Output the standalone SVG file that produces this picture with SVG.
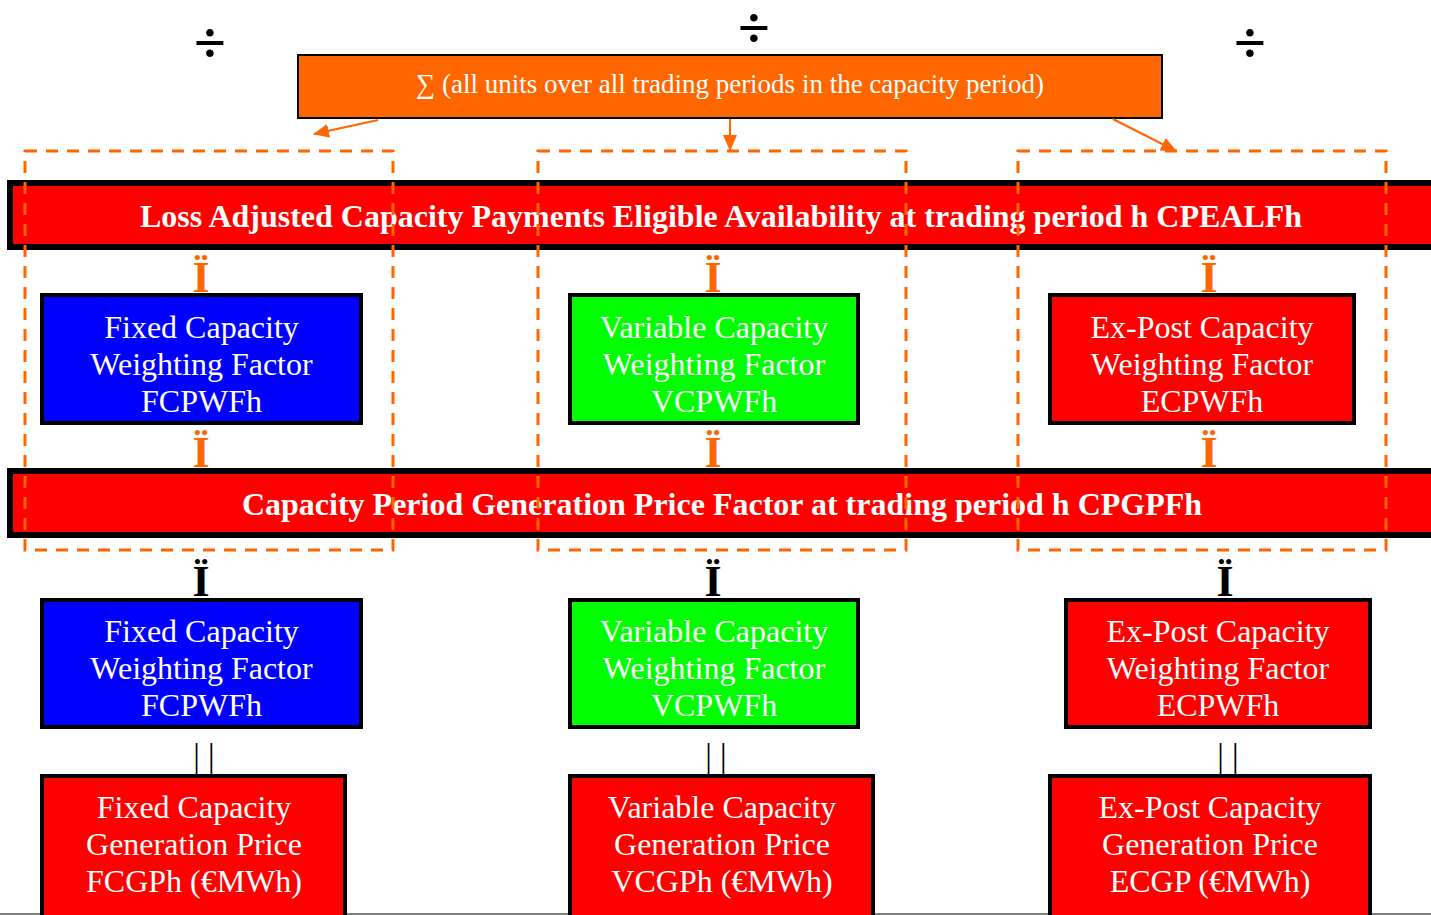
<svg xmlns="http://www.w3.org/2000/svg" width="1431" height="915" viewBox="0 0 1431 915">
<style>
.t{font-family:"Liberation Serif","Times New Roman",serif;fill:#fff;text-anchor:middle}
.n{font-size:32px}
.b{font-size:32px;font-weight:bold}
.sym{font-family:"Liberation Serif","DejaVu Serif",serif;text-anchor:middle;font-weight:bold}
.div{font-size:58px;fill:#000}
.io{font-size:44px;fill:#FF6600}
.ik{font-size:44px;fill:#000}
.bar{font-family:"Liberation Serif",serif;font-size:33px;fill:#000;text-anchor:middle}
.dash{fill:none;stroke:#FF6600;stroke-width:3;stroke-dasharray:12 9}
.box{stroke:#000;stroke-width:4}
.band{fill:#FF0000;stroke:#000;stroke-width:6}
.arr{stroke:#FF6600;stroke-width:2;fill:none;marker-end:url(#ah)}
</style>
<defs>
<marker id="ah" markerUnits="userSpaceOnUse" markerWidth="16" markerHeight="14" refX="15" refY="7" orient="auto">
<path d="M0,0 L16,7 L0,14 Z" fill="#FF6600"/>
</marker>
</defs>
<rect width="1431" height="915" fill="#fff"/>
<line x1="0" y1="914" x2="1431" y2="914" stroke="#000" stroke-width="1"/>

<g id="divisions">
<text class="sym div" x="210" y="62">÷</text>
<text class="sym div" x="754" y="47" font-size="52">÷</text>
<text class="sym div" x="1250" y="62">÷</text>
</g>

<g id="sum">
<rect x="298" y="55" width="864" height="63" fill="#FF6600" stroke="#000" stroke-width="2"/>
<text class="t" x="730" y="93" font-size="27">∑ (all units over all trading periods in the capacity period)</text>
</g>

<g id="band-cpealf">
<rect class="band" x="10" y="183" width="1430" height="64"/>
<text class="t b" x="721" y="227">Loss Adjusted Capacity Payments Eligible Availability at trading period h CPEALFh</text>
</g>

<g id="band-cpgpf">
<rect class="band" x="10" y="471" width="1430" height="64"/>
<text class="t b" x="722" y="515">Capacity Period Generation Price Factor at trading period h CPGPFh</text>
</g>

<g id="fcpwf-1">
<rect class="box" x="42" y="295" width="319" height="128" fill="#0000FF"/>
<text class="t n" x="201.5" y="338">Fixed Capacity</text>
<text class="t n" x="201.5" y="375">Weighting Factor</text>
<text class="t n" x="201.5" y="412">FCPWFh</text>
</g>
<g id="vcpwf-1">
<rect class="box" x="570" y="295" width="288" height="128" fill="#00FF00"/>
<text class="t n" x="714" y="338">Variable Capacity</text>
<text class="t n" x="714" y="375">Weighting Factor</text>
<text class="t n" x="714" y="412">VCPWFh</text>
</g>
<g id="ecpwf-1">
<rect class="box" x="1050" y="295" width="304" height="128" fill="#FF0000"/>
<text class="t n" x="1202" y="338">Ex-Post Capacity</text>
<text class="t n" x="1202" y="375">Weighting Factor</text>
<text class="t n" x="1202" y="412">ECPWFh</text>
</g>

<g id="fcpwf-2">
<rect class="box" x="42" y="600" width="319" height="127" fill="#0000FF"/>
<text class="t n" x="201.5" y="642">Fixed Capacity</text>
<text class="t n" x="201.5" y="679">Weighting Factor</text>
<text class="t n" x="201.5" y="716">FCPWFh</text>
</g>
<g id="vcpwf-2">
<rect class="box" x="570" y="600" width="288" height="127" fill="#00FF00"/>
<text class="t n" x="714" y="642">Variable Capacity</text>
<text class="t n" x="714" y="679">Weighting Factor</text>
<text class="t n" x="714" y="716">VCPWFh</text>
</g>
<g id="ecpwf-2">
<rect class="box" x="1066" y="600" width="304" height="127" fill="#FF0000"/>
<text class="t n" x="1218" y="642">Ex-Post Capacity</text>
<text class="t n" x="1218" y="679">Weighting Factor</text>
<text class="t n" x="1218" y="716">ECPWFh</text>
</g>

<g id="fcgp">
<rect class="box" x="42" y="776" width="303" height="150" fill="#FF0000"/>
<text class="t n" x="194" y="818">Fixed Capacity</text>
<text class="t n" x="194" y="855">Generation Price</text>
<text class="t n" x="194" y="892">FCGPh (€MWh)</text>
</g>
<g id="vcgp">
<rect class="box" x="570" y="776" width="303" height="150" fill="#FF0000"/>
<text class="t n" x="722" y="818">Variable Capacity</text>
<text class="t n" x="722" y="855">Generation Price</text>
<text class="t n" x="722" y="892">VCGPh (€MWh)</text>
</g>
<g id="ecgp">
<rect class="box" x="1050" y="776" width="320" height="150" fill="#FF0000"/>
<text class="t n" x="1210" y="818">Ex-Post Capacity</text>
<text class="t n" x="1210" y="855">Generation Price</text>
<text class="t n" x="1210" y="892">ECGP (€MWh)</text>
</g>

<g id="groups">
<rect class="dash" x="25" y="151" width="368" height="399"/>
<rect class="dash" x="538" y="151" width="368" height="399"/>
<rect class="dash" x="1018" y="151" width="368" height="399"/>
</g>

<g id="connectors">
<path class="arr" d="M378,120 L314,134"/>
<path class="arr" d="M730,119 L730,150"/>
<path class="arr" d="M1113,119 L1176,151"/>
<text class="sym io" x="201" y="292">Ï</text>
<text class="sym io" x="713" y="292">Ï</text>
<text class="sym io" x="1209" y="292">Ï</text>
<text class="sym io" x="201" y="467">Ï</text>
<text class="sym io" x="713" y="467">Ï</text>
<text class="sym io" x="1209" y="467">Ï</text>
<text class="sym ik" x="201" y="596">Ï</text>
<text class="sym ik" x="713" y="596">Ï</text>
<text class="sym ik" x="1225" y="596">Ï</text>
<text class="bar" x="204" y="767">| |</text>
<text class="bar" x="716" y="767">| |</text>
<text class="bar" x="1228" y="767">| |</text>
</g>
</svg>
